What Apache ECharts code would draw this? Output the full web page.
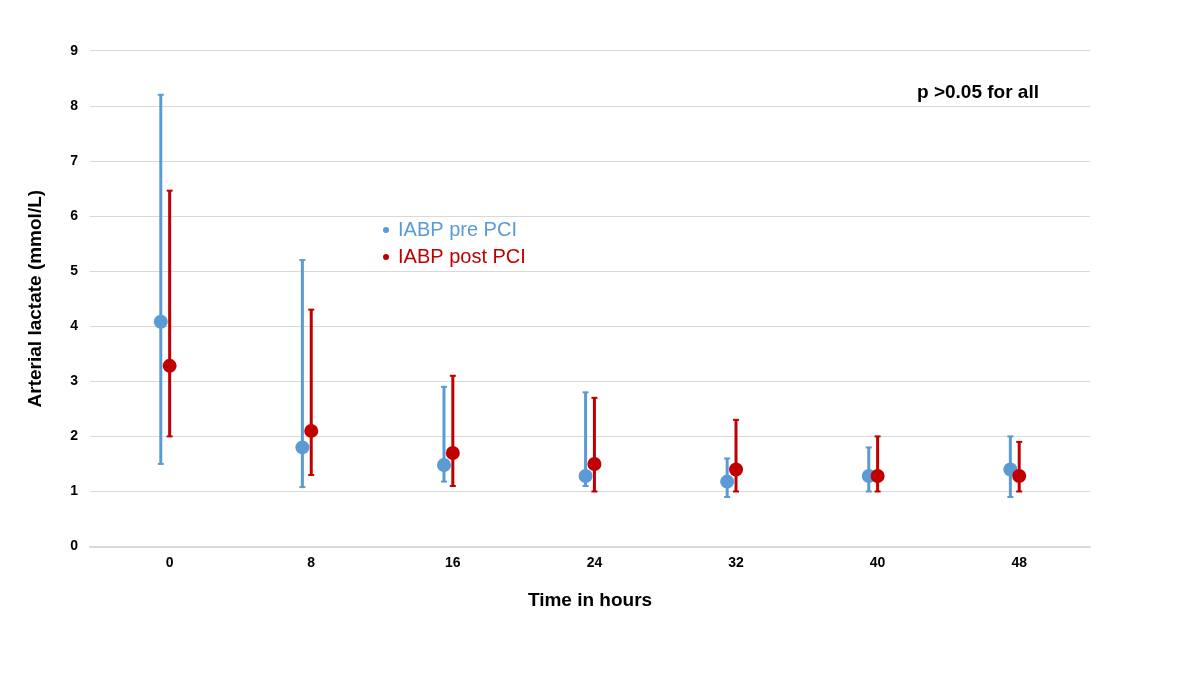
<!DOCTYPE html>
<html>
<head>
<meta charset="utf-8">
<title>Arterial lactate</title>
<script src="https://cdn.jsdelivr.net/npm/echarts@6/dist/echarts.min.js"></script>
<style>
	html, body { margin: 0; padding: 0; background: #fff; }
	#chart { width: 1200px; height: 675px; }
</style>
</head>
<body>
<div id="chart"></div>
<script>
// time points (hours)
var hours = [0, 8, 16, 24, 32, 40, 48];
// IABP pre PCI
var preMean  = [4.08, 1.8, 1.48, 1.28, 1.18, 1.28, 1.4];
var preLow   = [1.5, 1.08, 1.18, 1.1, 0.9, 1.0, 0.9];
var preHigh  = [8.2, 5.2, 2.9, 2.8, 1.6, 1.8, 2.0];
// IABP post PCI
var postMean = [3.28, 2.1, 1.7, 1.5, 1.4, 1.28, 1.28];
var postLow  = [2.0, 1.3, 1.1, 1.0, 1.0, 1.0, 1.0];
var postHigh = [6.46, 4.3, 3.1, 2.7, 2.3, 2.0, 1.9];
var yTicks = [0, 1, 2, 3, 4, 5, 6, 7, 8, 9];

var FONT = '"Liberation Sans", Arial, sans-serif';
var BLUE = '#5b9bd5';
var RED = '#c00000';
var SHIFT = 0.5; // pre PCI drawn just left of the time point

var chart = echarts.init(document.getElementById('chart'));

// 构造误差线数据 [x, low, high]
function barData(offset, low, high){
	var out = [];
	for(var i = 0; i < hours.length; i++){
		out.push([hours[i] + offset, low[i], high[i]]);
	}
	return out;
}
function pointData(offset, mean){
	var out = [];
	for(var i = 0; i < hours.length; i++){
		out.push([hours[i] + offset, mean[i]]);
	}
	return out;
}

// 误差线 renderItem
function errorBar(color){
	return function(params, api){
		var lo = api.coord([api.value(0), api.value(1)]);
		var hi = api.coord([api.value(0), api.value(2)]);
		var cap = 3;
		var style = { stroke: color, lineWidth: 3 };
		return {
			type: 'group',
			children: [
				{ type: 'line', shape: { x1: lo[0], y1: lo[1], x2: hi[0], y2: hi[1] }, style: style },
				{ type: 'line', shape: { x1: hi[0] - cap, y1: hi[1], x2: hi[0] + cap, y2: hi[1] }, style: { stroke: color, lineWidth: 2 } },
				{ type: 'line', shape: { x1: lo[0] - cap, y1: lo[1], x2: lo[0] + cap, y2: lo[1] }, style: { stroke: color, lineWidth: 2 } }
			]
		};
	};
}

var option = {
	backgroundColor: '#fff',
	animation: false,
	grid: { left: 90, right: 110, top: 50.7, bottom: 128.4 },
	legend: {
		orient: 'vertical',
		left: 378,
		top: 215,
		icon: 'circle',
		itemWidth: 6,
		itemHeight: 6,
		itemGap: 7,
		textStyle: { fontFamily: FONT, fontSize: 20, lineHeight: 20, padding: [0, 0, 0, 4] },
		data: [
			{ name: 'IABP pre PCI', textStyle: { color: BLUE } },
			{ name: 'IABP post PCI', textStyle: { color: RED } }
		]
	},
	xAxis: {
		type: 'value',
		min: -4.5,
		max: 52,
		name: 'Time in hours',
		nameLocation: 'middle',
		nameGap: 45,
		nameTextStyle: { fontFamily: FONT, fontSize: 19, fontWeight: 'bold', color: '#000' },
		axisLine: { show: true, onZero: false, lineStyle: { color: '#d9d9d9', width: 2 } },
		axisTick: { show: false },
		splitLine: { show: false },
		axisLabel: {
			customValues: hours,
			margin: 10,
			fontFamily: FONT, fontSize: 14, fontWeight: 'bold', color: '#000'
		}
	},
	yAxis: {
		type: 'value',
		min: 0,
		max: 9,
		interval: 1,
		name: 'Arterial lactate (mmol/L)',
		nameLocation: 'middle',
		nameGap: 45,
		nameTextStyle: { fontFamily: FONT, fontSize: 19, fontWeight: 'bold', color: '#000' },
		axisLine: { show: false },
		axisTick: { show: false },
		splitLine: { lineStyle: { color: '#d9d9d9', width: 1 } },
		axisLabel: {
			customValues: yTicks,
			margin: 12,
			fontFamily: FONT, fontSize: 14, fontWeight: 'bold', color: '#000'
		}
	},
	graphic: [{
		type: 'text',
		left: 917,
		top: 83,
		style: { text: 'p >0.05 for all', fontFamily: FONT, fontSize: 19, fontWeight: 'bold', fill: '#000' }
	}],
	series: [
		{
			type: 'custom',
			renderItem: errorBar(BLUE),
			encode: { x: 0, y: [1, 2] },
			data: barData(-SHIFT, preLow, preHigh),
			z: 2
		},
		{
			name: 'IABP pre PCI',
			type: 'scatter',
			symbolSize: 14,
			itemStyle: { color: BLUE, opacity: 1 },
			data: pointData(-SHIFT, preMean),
			z: 3
		},
		{
			type: 'custom',
			renderItem: errorBar(RED),
			encode: { x: 0, y: [1, 2] },
			data: barData(0, postLow, postHigh),
			z: 4
		},
		{
			name: 'IABP post PCI',
			type: 'scatter',
			symbolSize: 14,
			itemStyle: { color: RED, opacity: 1 },
			data: pointData(0, postMean),
			z: 5
		}
	]
};
chart.setOption(option);
</script>
</body>
</html>
